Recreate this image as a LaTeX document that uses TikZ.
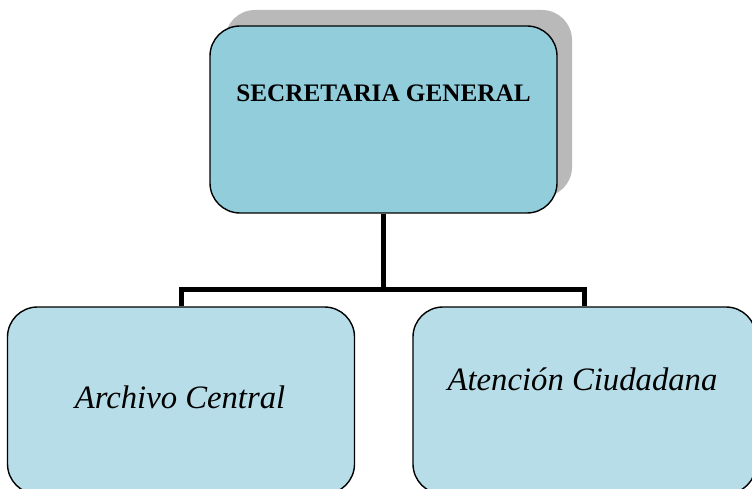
\documentclass[tikz,border=0pt]{standalone}
\usepackage{fontspec}
\setmainfont{Liberation Serif}
\usepackage{tikz}
\usetikzlibrary{positioning,shadows}
\definecolor{topblue}{HTML}{92CDDC}
\definecolor{unitblue}{HTML}{B7DEE8}

\begin{document}
\begin{tikzpicture}[x=1pt,y=-1pt,
    box/.style={draw=black,line width=1.4pt,rounded corners=30pt,inner sep=0pt},
    link/.style={draw=black,line width=5pt}]

    \clip (0,0) rectangle (752,489);

    % main office
    \node[box,fill=topblue,minimum width=347pt,minimum height=187pt,
          drop shadow={shadow xshift=15pt,shadow yshift=16pt,fill=gray!55,opacity=1}]
          (secgen) at (383.5,119.5) {};
    \node[anchor=base] (secgentxt) at (383.5,102)
          {\fontsize{25.2}{30}\selectfont\bfseries SECRETARIA GENERAL};

    % units
    \node[box,fill=unitblue,minimum width=347pt,minimum height=187pt]
          (archivo) at (181,400.5) {};
    \node[anchor=base] (archivotxt) at (180,408)
          {\fontsize{32.7}{38}\selectfont\itshape Archivo Central};

    \node[box,fill=unitblue,minimum width=343pt,minimum height=187pt]
          (atencion) at (584.5,400.5) {};
    \node[anchor=base] (atenciontxt) at (582.5,390)
          {\fontsize{32.7}{38}\selectfont\itshape Atención Ciudadana};

    % connectors
    \coordinate (bus) at (383.5,289);
    \draw[link] (secgen.south) -- (bus);
    \draw[link] (archivo.north) |- (bus) -| (atencion.north);
\end{tikzpicture}
\end{document}
